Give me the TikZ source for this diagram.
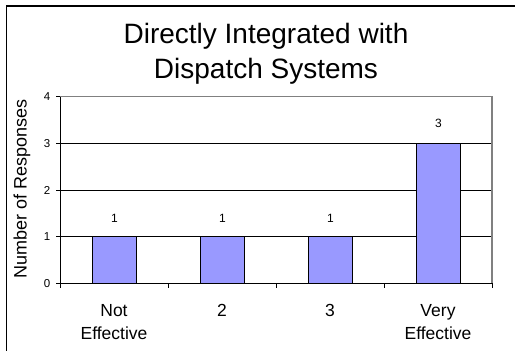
\documentclass[tikz,border=0pt]{standalone}
\usepackage{fontspec}
\setmainfont{Liberation Sans}
\usetikzlibrary{positioning}
\definecolor{barblue}{RGB}{153,153,255}
\definecolor{framegray}{RGB}{128,128,128}

\begin{document}
\begin{tikzpicture}[x=1pt,y=-1pt,
  frame/.style={draw=black,line width=1.2pt},
  border/.style={draw=framegray,line width=1.5pt},
  gridline/.style={draw=black,line width=0.8pt},
  axis/.style={draw=black,line width=1pt},
  bar/.style={draw=black,line width=1.3pt,fill=barblue},
  title/.style={inner sep=0pt,anchor=base,font=\fontsize{28}{35}\selectfont},
  ticklabel/.style={inner sep=0pt,anchor=east,font=\fontsize{11.5}{13}\selectfont},
  value/.style={inner sep=0pt,font=\fontsize{12}{14}\selectfont},
  category/.style={inner sep=0pt,anchor=base,font=\fontsize{17.5}{23}\selectfont},
  axistitle/.style={inner sep=0pt,anchor=base,rotate=90,font=\fontsize{18}{20}\selectfont}]
  \useasboundingbox (0,0) rectangle (515,351);
  \draw[frame] (6.5,351) -- (6.5,6) -- (515,6);
  \node[title] (title1) at (266,43) {Directly Integrated with};
  \node[title] (title2) at (266,78) {Dispatch Systems};

  \coordinate (o) at (60,283.3);
  \coordinate (ytop) at (60,96.7);
  \coordinate (xend) at (492,283.3);
  \coordinate (corner) at (492,96.7);
  \draw[gridline] (60,236.7) -- (492,236.7);
  \draw[gridline] (60,190) -- (492,190);
  \draw[gridline] (60,143.3) -- (492,143.3);
  \draw[border] (ytop) -- (corner) -- (xend);

  \draw[bar] (92.5,283.3) rectangle (136.5,236.7);
  \draw[bar] (200.5,283.3) rectangle (244.5,236.7);
  \draw[bar] (308.5,283.3) rectangle (352.5,236.7);
  \draw[bar] (416.5,283.3) rectangle (460.5,143.3);

  \draw[axis] (ytop) -- (o) -- (xend);
  \draw[axis] (56,283.3) -- (60,283.3);
  \draw[axis] (56,236.7) -- (60,236.7);
  \draw[axis] (56,190) -- (60,190);
  \draw[axis] (56,143.3) -- (60,143.3);
  \draw[axis] (56,96.7) -- (60,96.7);
  \draw[axis] (60,283.3) -- (60,288);
  \draw[axis] (168,283.3) -- (168,288);
  \draw[axis] (276,283.3) -- (276,288);
  \draw[axis] (384,283.3) -- (384,288);
  \draw[axis] (492,283.3) -- (492,288);

  \node[ticklabel] (y0) at (50.5,283.3) {0};
  \node[ticklabel] (y1) at (50.5,236.7) {1};
  \node[ticklabel] (y2) at (50.5,190) {2};
  \node[ticklabel] (y3) at (50.5,143.3) {3};
  \node[ticklabel] (y4) at (50.5,96.7) {4};

  \node[value] (v1) at (114.5,218) {1};
  \node[value] (v2) at (222.5,218) {1};
  \node[value] (v3) at (330.5,218) {1};
  \node[value] (v4) at (438.5,123.3) {3};

  \node[category] (c1) at (114,316) {Not};
  \node[category] (c1b) at (114,339) {Effective};
  \node[category] (c2) at (222,316) {2};
  \node[category] (c3) at (330,316) {3};
  \node[category] (c4) at (438,316.5) {Very};
  \node[category] (c4b) at (438,339) {Effective};

  \node[axistitle] (ytitle) at (26.7,189) {Number of Responses};
\end{tikzpicture}
\end{document}
